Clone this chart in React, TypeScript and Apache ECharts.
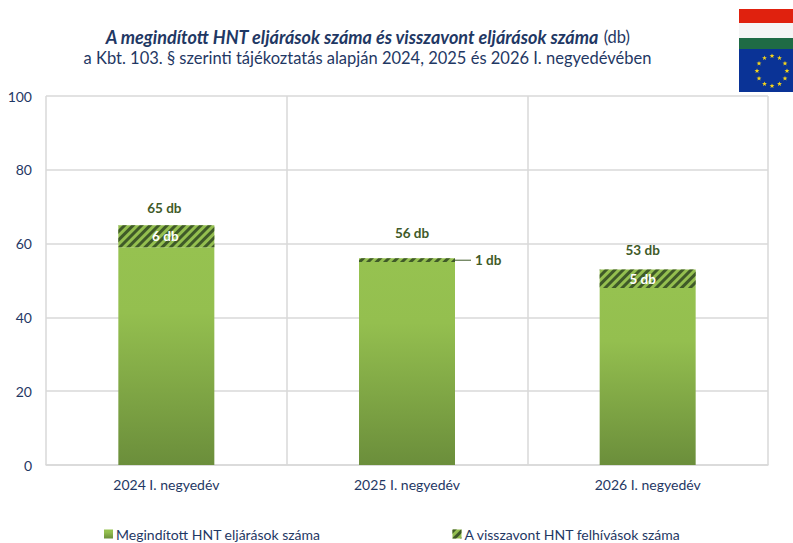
import React, { useEffect, useRef } from "react";
import * as echarts from "echarts";

const categories = ["2024 I. negyedév", "2025 I. negyedév", "2026 I. negyedév"];
const startedNet = [59, 55, 48];
const withdrawn = [6, 1, 5];
const totals = [65, 56, 53];
const totalLift = [10, 18, 12];
const totalShift = [-2, 5, -5];
const withdrawnShift = [-1, 0, -5];
const yTicksMax = 100;
const nameMain = "Megindított HNT eljárások száma";
const nameWithdrawn = "A visszavont HNT felhívások száma";
const FONT = "Lato, 'Open Sans', sans-serif";
const NAVY = "#1f3864";
const OLIVE = "#3f5a28";

function star(cx: number, cy: number, r: number) {
  const pts: number[][] = [];
  for (let i = 0; i < 10; i++) {
    const rad = i % 2 ? r * 0.42 : r;
    const a = -Math.PI / 2 + (i * Math.PI) / 5;
    pts.push([cx + rad * Math.cos(a), cy + rad * Math.sin(a)]);
  }
  return pts;
}

const flagStars = Array.from({ length: 12 }, (_, i) => {
  const a = (i * Math.PI) / 6;
  return {
    type: "polygon",
    shape: { points: star(772 + 15 * Math.sin(a), 71 - 15 * Math.cos(a), 2.6) },
    style: { fill: "#f2d21c" },
  };
});

const hatch = {
  symbol: "rect",
  dashArrayX: [1, 0],
  dashArrayY: [3, 3],
  rotation: -Math.PI / 4,
  color: OLIVE,
};

export default function App() {
  const ref = useRef<HTMLDivElement>(null);
  useEffect(() => {
    const chart = echarts.init(ref.current!, null, { renderer: "svg" });
    chart.setOption({
      animation: false,
      backgroundColor: "#fff",
      title: {
        left: 362.5,
        top: 21,
        textAlign: "center",
        text: `{b|A megindított HNT eljárások száma és visszavont eljárások száma} {n|(db)}\n{n|a Kbt. 103. § szerinti tájékoztatás alapján 2024, 2025 és 2026 I. negyedévében}`,
        textStyle: {
          fontFamily: FONT,
          fontWeight: "normal",
          rich: {
            b: { fontFamily: FONT, fontSize: 18, fontWeight: "bold", fontStyle: "italic", color: NAVY, lineHeight: 21.5 },
            n: { fontFamily: FONT, fontSize: 16.5, fontWeight: "normal", color: NAVY, lineHeight: 21.5 },
          },
        },
      },
      grid: { left: 46, right: 25, top: 96, bottom: 78 },
      xAxis: {
        type: "category",
        data: categories,
        axisTick: { show: false },
        axisLine: { lineStyle: { color: "#d9d9d9", width: 1.5 } },
        splitLine: { show: true, lineStyle: { color: "#d9d9d9", width: 1.5 } },
        axisLabel: { color: NAVY, fontFamily: FONT, fontSize: 14, margin: 12 },
      },
      yAxis: {
        type: "value",
        min: 0,
        max: yTicksMax,
        interval: 20,
        axisLine: { show: false },
        axisTick: { show: false },
        splitLine: { lineStyle: { color: "#d9d9d9", width: 1.5 } },
        axisLabel: { color: NAVY, fontFamily: FONT, fontSize: 14, margin: 14 },
      },
      legend: {
        left: 99,
        top: 522,
        itemWidth: 9,
        itemHeight: 9,
        itemGap: 132,
        icon: "rect",
        textStyle: { color: NAVY, fontFamily: FONT, fontSize: 14, padding: [0, 0, 0, -2] },
        data: [nameMain, nameWithdrawn],
      },
      series: [
        {
          name: nameMain,
          type: "bar",
          stack: "a",
          barWidth: 96,
          data: startedNet,
          itemStyle: {
            color: new echarts.graphic.LinearGradient(0, 0, 0, 1, [
              { offset: 0, color: "#96c250" },
              { offset: 0.3, color: "#94bf4f" },
              { offset: 1, color: "#6b8e3b" },
            ]),
          },
        },
        {
          name: nameWithdrawn,
          type: "bar",
          stack: "a",
          data: withdrawn.map((v, i) => ({
            value: v,
            label:
              v === 1
                ? { show: true, position: "right", distance: 0, formatter: "{l|}{t|{c} db}" }
                : {
                    show: true,
                    position: "inside",
                    offset: [withdrawnShift[i], 0],
                    color: "#fff",
                    fontWeight: "bold",
                    fontFamily: FONT,
                    fontSize: 13.5,
                    formatter: "{c} db",
                  },
          })),
          label: {
            rich: {
              l: { width: 16, height: 1, backgroundColor: OLIVE },
              t: { color: OLIVE, fontWeight: "bold", fontFamily: FONT, fontSize: 13.5, padding: [0, 0, 0, 4] },
            },
          },
          itemStyle: { color: "#94bf4f", decal: hatch },
        },
        {
          name: "Összesen",
          type: "line",
          data: totals.map((v, i) => ({
            value: v,
            label: { distance: totalLift[i], offset: [totalShift[i], 0] },
          })),
          symbol: "circle",
          symbolSize: 1,
          itemStyle: { color: "transparent" },
          lineStyle: { opacity: 0 },
          label: {
            show: true,
            position: "top",
            formatter: "{c} db",
            color: OLIVE,
            fontWeight: "bold",
            fontFamily: FONT,
            fontSize: 13.5,
          },
        },
      ],
      graphic: [
        {
          type: "group",
          silent: true,
          children: [
            { type: "rect", shape: { x: 739, y: 9, width: 54, height: 14 }, style: { fill: "#e0210e" } },
            { type: "rect", shape: { x: 739, y: 23, width: 54, height: 15 }, style: { fill: "#f5f5f5" } },
            { type: "rect", shape: { x: 739, y: 38, width: 54, height: 12 }, style: { fill: "#1f6b45" } },
            { type: "rect", shape: { x: 739, y: 49, width: 54, height: 43 }, style: { fill: "#0a3396" } },
            ...flagStars,
          ],
        },
      ],
    });
    return () => chart.dispose();
  }, []);
  return <div ref={ref} style={{ position: "fixed", left: 0, top: 0, width: 793, height: 543, background: "#fff" }} />;
}
